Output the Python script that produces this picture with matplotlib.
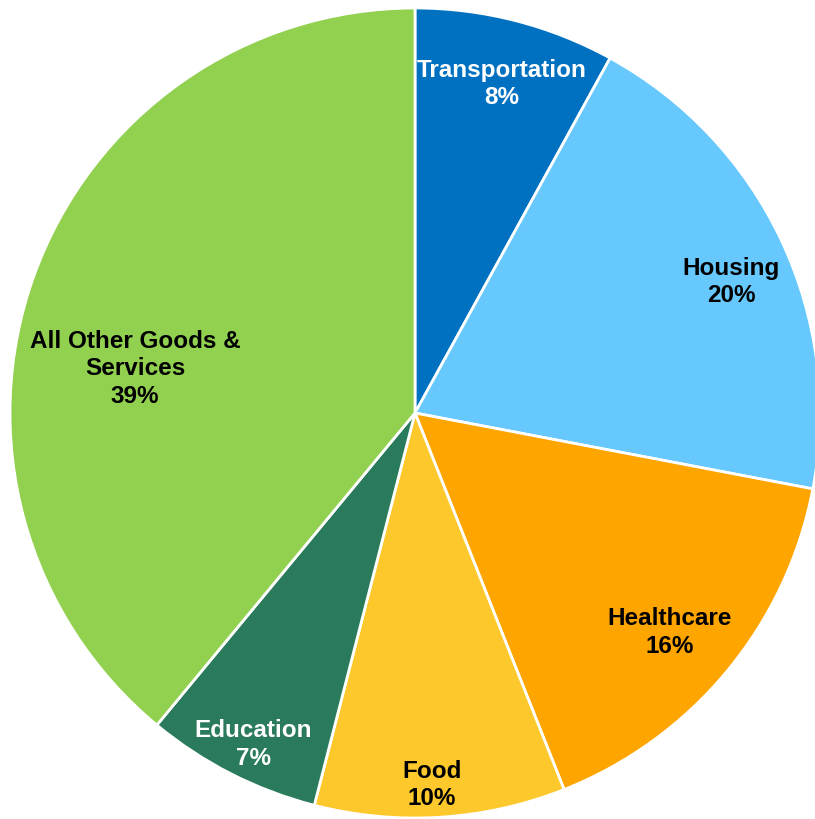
import numpy as np
import matplotlib
matplotlib.use('Agg')
import matplotlib.pyplot as plt

# Spending shares by category
categories = ['Transportation', 'Housing', 'Healthcare', 'Food', 'Education',
              'All Other Goods &\nServices']
shares = [8, 20, 16, 10, 7, 39]
colors = ['#0070C0', '#66C8FD', '#FFA500', '#FDC82C', '#2A7B5B', '#92D050']
text_colors = ['white', 'black', 'black', 'black', 'white', 'black']

# label placement: radius as fraction of pie radius, angle nudge in degrees
label_r = [0.84, 0.845, 0.83, 0.92, 0.91, 0.70]
label_nudge = [-0.4, -2.7, -1.2, -1.0, 1.0, 10.8]

fig = plt.figure(figsize=(8.15, 8.19), dpi=100)
ax = fig.add_axes([0, 0, 1, 1])
R = 405
wedges, _ = ax.pie(shares, colors=colors, startangle=90, counterclock=False,
                   radius=R, center=(0, 0),
                   wedgeprops=dict(edgecolor='white', linewidth=2))
ax.set_xlim(-415, 400)
ax.set_ylim(-406, 413)
ax.set_aspect('equal')
ax.axis('off')

for w, name, val, tc, r, dn in zip(wedges, categories, shares, text_colors, label_r, label_nudge):
    mid = np.deg2rad((w.theta1 + w.theta2) / 2 + dn)
    x = r * R * np.cos(mid)
    y = r * R * np.sin(mid)
    ax.text(x, y, f'{name}\n{val}%', ha='center', va='center', color=tc,
            fontsize=17.5, fontweight='bold', family='Liberation Sans',
            linespacing=1.25)

fig.savefig('out.png', dpi=100)
